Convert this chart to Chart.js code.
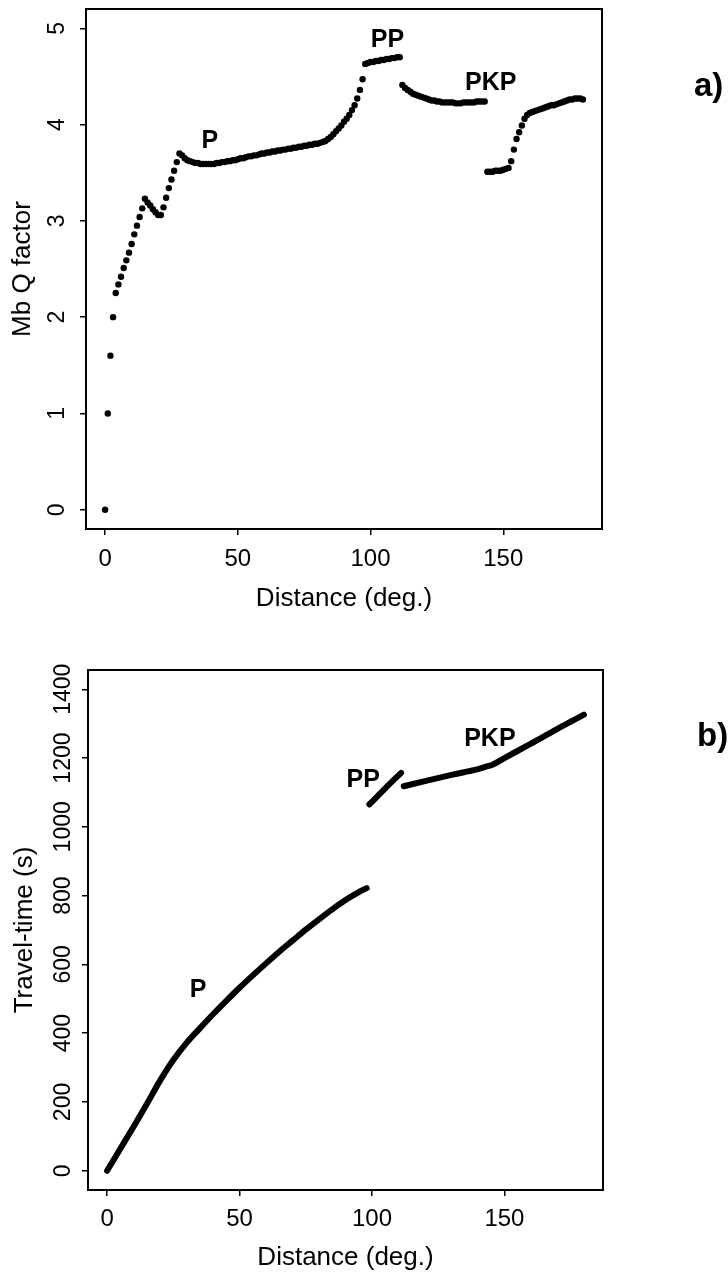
<!DOCTYPE html>
<html>
<head>
<meta charset="utf-8">
<script src="https://cdn.jsdelivr.net/npm/chart.js@4.4.1/dist/chart.umd.min.js"></script>
<style>
  html, body { margin: 0; padding: 0; background: #fff; }
  body { width: 728px; height: 1277px; position: relative; overflow: hidden; }
  canvas { position: absolute; left: 0; }
  #chartA { top: 0; }
  #chartB { top: 640px; }
</style>
</head>
<body>
<canvas id="chartA" width="728" height="630"></canvas>
<canvas id="chartB" width="728" height="637"></canvas>
<script>
// a) Mb Q factor, one value per degree of distance
const distA = [
  0, 1, 2, 3, 4, 5, 6, 7, 8, 9, 10, 11, 12, 13, 14, 15, 16, 17, 18, 19,
  20, 21, 22, 23, 24, 25, 26, 27, 28, 29, 30, 31, 32, 33, 34, 35, 36, 37, 38, 39,
  40, 41, 42, 43, 44, 45, 46, 47, 48, 49, 50, 51, 52, 53, 54, 55, 56, 57, 58, 59,
  60, 61, 62, 63, 64, 65, 66, 67, 68, 69, 70, 71, 72, 73, 74, 75, 76, 77, 78, 79,
  80, 81, 82, 83, 84, 85, 86, 87, 88, 89, 90, 91, 92, 93, 94, 95, 96, 97, 98, 99,
  100, 101, 102, 103, 104, 105, 106, 107, 108, 109, 110, 111, 112, 113, 114, 115, 116, 117, 118, 119,
  120, 121, 122, 123, 124, 125, 126, 127, 128, 129, 130, 131, 132, 133, 134, 135, 136, 137, 138, 139,
  140, 141, 142, 143, 144, 145, 146, 147, 148, 149, 150, 151, 152, 153, 154, 155, 156, 157, 158, 159,
  160, 161, 162, 163, 164, 165, 166, 167, 168, 169, 170, 171, 172, 173, 174, 175, 176, 177, 178, 179,
  180,
];
const mbQ = [
  0, 1.0, 1.6, 2.0, 2.25, 2.34, 2.42, 2.51, 2.59, 2.67, 2.76, 2.86, 2.95, 3.04, 3.13, 3.23, 3.19, 3.16, 3.12, 3.09,
  3.06, 3.06, 3.14, 3.24, 3.34, 3.43, 3.52, 3.61, 3.70, 3.68, 3.65, 3.63, 3.62, 3.61, 3.60, 3.60, 3.59, 3.59, 3.59, 3.59,
  3.59, 3.59, 3.60, 3.60, 3.61, 3.61, 3.62, 3.62, 3.63, 3.63, 3.64, 3.65, 3.65, 3.66, 3.67, 3.67, 3.68, 3.68, 3.69, 3.70,
  3.70, 3.71, 3.71, 3.72, 3.72, 3.73, 3.73, 3.74, 3.74, 3.75, 3.75, 3.76, 3.76, 3.77, 3.77, 3.78, 3.78, 3.79, 3.79, 3.80,
  3.80, 3.81, 3.82, 3.83, 3.85, 3.87, 3.90, 3.93, 3.96, 3.99, 4.03, 4.06, 4.10, 4.15, 4.20, 4.27, 4.36, 4.47, 4.63, 4.64,
  4.65, 4.65, 4.66, 4.66, 4.67, 4.67, 4.68, 4.68, 4.69, 4.69, 4.70, 4.70, 4.41, 4.38, 4.36, 4.34, 4.32, 4.31, 4.30, 4.29,
  4.28, 4.27, 4.26, 4.25, 4.25, 4.24, 4.24, 4.23, 4.23, 4.23, 4.23, 4.23, 4.22, 4.22, 4.22, 4.23, 4.23, 4.23, 4.23, 4.23,
  4.24, 4.24, 4.24, 4.24, 3.51, 3.51, 3.51, 3.52, 3.52, 3.52, 3.53, 3.54, 3.55, 3.62, 3.74, 3.85, 3.92, 3.99, 4.06, 4.10,
  4.12, 4.13, 4.14, 4.15, 4.16, 4.17, 4.18, 4.19, 4.20, 4.20, 4.21, 4.22, 4.23, 4.24, 4.25, 4.26, 4.26, 4.27, 4.27, 4.27,
  4.26,
];

// b) travel times (s) for the three phases
const distP = [0, 5, 10, 15, 20, 25, 30, 35, 40, 45, 50, 55, 60, 65, 70, 75, 80, 85, 90, 95, 98];
const timeP = [0, 64, 128, 194, 262, 322, 372, 414, 455, 494, 532, 568, 603, 637, 669, 701, 731, 760, 787, 810, 822];
const distPP = [99, 105, 111];
const timePP = [1065, 1112, 1157];
const distPKP = [112, 120, 130, 140, 144, 145, 150, 160, 170, 180];
const timePKP = [1118, 1133, 1151, 1168, 1177, 1179, 1200, 1242, 1285, 1326];

// axis ticks
const xTicks = [0, 50, 100, 150];
const yTicksA = [0, 1, 2, 3, 4, 5];
const yTicksB = [0, 200, 400, 600, 800, 1000, 1200, 1400];

// phase labels (data coords, text baseline)
const phaseNames = ["P", "PP", "PKP"];
const labelXA = [39.5, 106.4, 145.3];
const labelYA = [3.756, 4.808, 4.358];
const labelXB = [34.4, 96.7, 144.5];
const labelYB = [505, 1117, 1235];

const FONT = "'Liberation Sans', Arial, Helvetica, sans-serif";
Chart.defaults.font.family = FONT;
Chart.defaults.color = "#000";

const frameAndLabels = {
  id: "frameAndLabels",
  afterDatasetsDraw(chart, args, opts) {
    const ctx = chart.ctx;
    const area = chart.chartArea;
    const xs = chart.scales.x;
    const ys = chart.scales.y;
    ctx.save();
    ctx.strokeStyle = "#000";
    ctx.lineWidth = 2;
    ctx.strokeRect(area.left, area.top, area.right - area.left, area.bottom - area.top);
    ctx.fillStyle = "#000";
    ctx.font = "bold 25px " + FONT;
    ctx.textAlign = "center";
    ctx.textBaseline = "alphabetic";
    opts.texts.forEach((t, i) => {
      ctx.fillText(t, xs.getPixelForValue(opts.xs[i]), ys.getPixelForValue(opts.ys[i]));
    });
    ctx.font = "bold 33px " + FONT;
    ctx.textAlign = "left";
    ctx.fillText(opts.panel, opts.panelX, opts.panelY);
    ctx.restore();
  },
};

function toPoints(xv, yv) {
  return xv.map((x, i) => ({ x: x, y: yv[i] }));
}

function makeOptions(cfg) {
  return {
    responsive: false,
    animation: false,
    events: [],
    layout: { padding: cfg.padding },
    plugins: {
      legend: { display: false },
      tooltip: { enabled: false },
      frameAndLabels: cfg.labels,
    },
    scales: {
      x: {
        type: "linear",
        min: -7.2,
        max: 187.2,
        afterBuildTicks: (s) => { s.ticks = xTicks.map((v) => ({ value: v })); },
        afterFit: (s) => { s.height = cfg.xHeight; s.paddingLeft = 0; s.paddingRight = 0; },
        ticks: {
          autoSkip: false, maxRotation: 0, padding: cfg.xTickPad,
          color: "#000", font: { size: 24 }, callback: (v) => String(v),
        },
        grid: { drawOnChartArea: false, drawTicks: true, tickLength: 6, color: "#000", lineWidth: 1.5 },
        border: { display: true, color: "#000", width: 2 },
        title: {
          display: true, text: "Distance (deg.)", color: "#000",
          font: { size: 26 }, padding: { top: 0, bottom: cfg.xTitlePad },
        },
      },
      y: {
        type: "linear",
        min: cfg.yMin,
        max: cfg.yMax,
        afterBuildTicks: (s) => { s.ticks = cfg.yTicks.map((v) => ({ value: v })); },
        afterFit: (s) => { s.width = cfg.yWidth; s.paddingTop = 0; s.paddingBottom = 0; },
        ticks: {
          autoSkip: false, minRotation: 90, maxRotation: 90, crossAlign: "center",
          padding: cfg.yTickPad, color: "#000", font: { size: 23 }, callback: (v) => String(v),
        },
        grid: { drawOnChartArea: false, drawTicks: true, tickLength: 6, color: "#000", lineWidth: 1.5 },
        border: { display: true, color: "#000", width: 2 },
        title: {
          display: true, text: cfg.yTitle, color: "#000",
          font: { size: 26 }, padding: { top: cfg.yTitlePad, bottom: 0 },
        },
      },
    },
  };
}

new Chart(document.getElementById("chartA").getContext("2d"), {
  type: "scatter",
  data: {
    datasets: [{
      data: toPoints(distA, mbQ),
      pointRadius: 3.2,
      pointBorderWidth: 0,
      pointBackgroundColor: "#000",
      showLine: false,
    }],
  },
  options: makeOptions({
    padding: { top: 9, right: 126, left: 0, bottom: 0 },
    xHeight: 101, xTickPad: 10, xTitlePad: 16,
    yMin: -0.2, yMax: 5.2, yTicks: yTicksA, yWidth: 86, yTickPad: 16,
    yTitle: "Mb Q factor", yTitlePad: 7,
    labels: { texts: phaseNames, xs: labelXA, ys: labelYA, panel: "a)", panelX: 694, panelY: 96 },
  }),
  plugins: [frameAndLabels],
});

const lineStyle = {
  showLine: true,
  borderColor: "#000",
  borderWidth: 6,
  borderCapStyle: "round",
  borderJoinStyle: "round",
  cubicInterpolationMode: "monotone",
  pointRadius: 0,
};

new Chart(document.getElementById("chartB").getContext("2d"), {
  type: "scatter",
  data: {
    datasets: [
      Object.assign({ data: toPoints(distP, timeP) }, lineStyle),
      Object.assign({ data: toPoints(distPP, timePP) }, lineStyle),
      Object.assign({ data: toPoints(distPKP, timePKP) }, lineStyle),
    ],
  },
  options: makeOptions({
    padding: { top: 30, right: 125, left: 0, bottom: 0 },
    xHeight: 87, xTickPad: 9, xTitlePad: 4,
    yMin: -56, yMax: 1456, yTicks: yTicksB, yWidth: 88, yTickPad: -7,
    yTitle: "Travel-time (s)", yTitlePad: 9,
    labels: { texts: phaseNames, xs: labelXB, ys: labelYB, panel: "b)", panelX: 697, panelY: 106 },
  }),
  plugins: [frameAndLabels],
});
</script>
</body>
</html>
